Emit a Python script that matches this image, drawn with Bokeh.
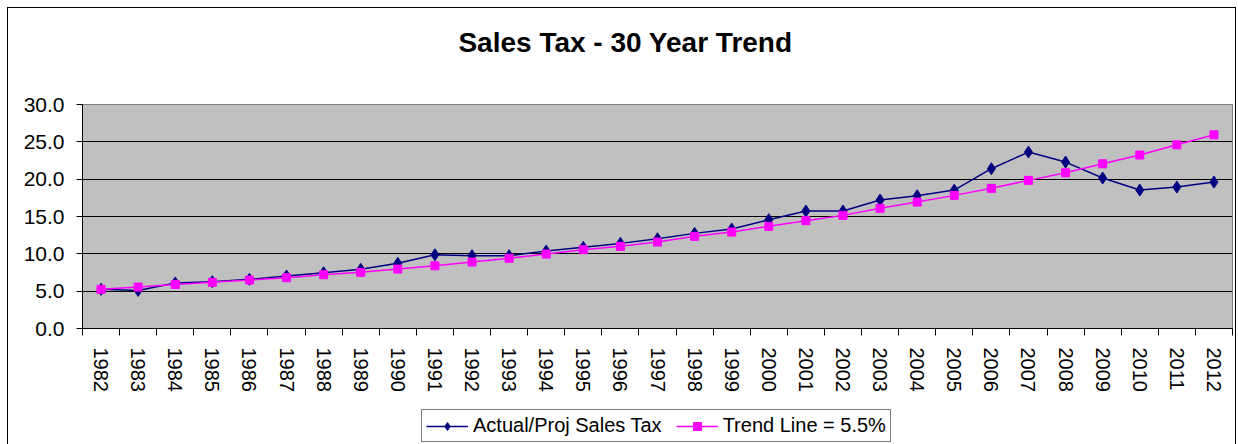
from bokeh.plotting import figure
from bokeh.layouts import column
from bokeh.models import (ColumnDataSource, FixedTicker, NumeralTickFormatter,
                          Range1d, Legend, LegendItem, Label)
from bokeh.embed import file_html
from bokeh.resources import INLINE

years = list(range(1982, 2013))
actual = [5.25, 5.1, 6.1, 6.27, 6.58, 7.03, 7.47, 7.92, 8.73, 9.88, 9.75,
          9.75, 10.37, 10.87, 11.4, 12.02, 12.74, 13.32, 14.57, 15.73, 15.73,
          17.2, 17.78, 18.54, 21.4, 23.63, 22.29, 20.15, 18.54, 18.94, 19.61]
trend = [5.25, 5.55, 5.9, 6.18, 6.49, 6.8, 7.2, 7.52, 7.96, 8.4, 8.9,
         9.4, 9.97, 10.55, 11.0, 11.58, 12.34, 12.92, 13.68, 14.44, 15.15,
         16.09, 16.93, 17.83, 18.77, 19.84, 20.86, 22.06, 23.23, 24.6, 25.94]
y_ticks = [0, 5, 10, 15, 20, 25, 30]
title_text = "Sales Tax - 30 Year Trend"
series_names = ["Actual/Proj Sales Tax", "Trend Line = 5.5%"]

FONT = "Liberation Sans"
NAVY = "#000080"
MAGENTA = "#FF00FF"

src = ColumnDataSource(dict(year=years, actual=actual, trend=trend))

# title strip
tp = figure(width=1227, height=60, output_backend="svg", toolbar_location=None,
            x_range=Range1d(0, 1150), y_range=Range1d(0, 60),
            x_axis_location=None, y_axis_location=None,
            min_border_left=0, min_border_right=0, min_border_top=0, min_border_bottom=0)
tp.outline_line_color = None
tp.background_fill_color = "white"
tp.border_fill_color = "white"
tp.xgrid.visible = False
tp.ygrid.visible = False
tp.add_layout(Label(x=543, y=26, text=title_text, text_font=FONT,
                    text_font_size="28px", text_font_style="bold",
                    text_color="black", text_align="center",
                    text_baseline="middle"))

p = figure(frame_width=1150, frame_height=224, output_backend="svg", toolbar_location=None,
           x_range=Range1d(years[0] - 0.5, years[-1] + 0.5),
           y_range=Range1d(y_ticks[0], y_ticks[-1]),
           min_border_left=74, min_border_right=3,
           min_border_top=36, min_border_bottom=80)

p.background_fill_color = "#C0C0C0"
p.border_fill_color = "white"
p.outline_line_color = "#808080"

p.xgrid.visible = False
p.ygrid.grid_line_color = "black"
p.ygrid.grid_line_width = 1
p.ygrid.ticker = FixedTicker(ticks=y_ticks)

xa = p.xaxis[0]
xa.ticker = FixedTicker(ticks=years, minor_ticks=[y - 0.5 for y in years] + [years[-1] + 0.5])
xa.major_label_overrides = {y: str(y) for y in years}
xa.major_label_orientation = "vertical"
xa.major_tick_out = 0
xa.major_tick_in = 0
xa.minor_tick_out = 7
xa.minor_tick_in = 0
xa.minor_tick_line_color = "black"
xa.axis_line_color = "black"
xa.major_label_standoff = 12
xa.major_label_text_font = FONT
xa.major_label_text_font_size = "20px"
xa.major_label_text_color = "black"

ya = p.yaxis[0]
ya.ticker = FixedTicker(ticks=y_ticks, minor_ticks=[])
ya.formatter = NumeralTickFormatter(format="0.0")
ya.major_tick_out = 6
ya.major_tick_in = 0
ya.minor_tick_out = 0
ya.axis_line_color = "black"
ya.major_tick_line_color = "black"
ya.major_label_standoff = 12
ya.major_label_text_font = FONT
ya.major_label_text_font_size = "21px"
ya.major_label_text_color = "black"

p.line("year", "actual", source=src, line_color=NAVY, line_width=1.5)
p.scatter("year", "actual", source=src, marker="diamond", size=12,
          fill_color=NAVY, line_color=NAVY)
p.line("year", "trend", source=src, line_color=MAGENTA, line_width=1.5)
p.scatter("year", "trend", source=src, marker="square", size=8,
          fill_color=MAGENTA, line_color=MAGENTA)

# legend strip under the chart (series drawn out of view, only for legend glyphs)
lp = figure(width=1227, height=36, output_backend="svg", toolbar_location=None,
            x_range=Range1d(0, 1), y_range=Range1d(0, 1),
            x_axis_location=None, y_axis_location=None,
            min_border_left=0, min_border_right=0, min_border_top=0, min_border_bottom=0)
lp.outline_line_color = None
lp.background_fill_color = "white"
lp.border_fill_color = "white"
lp.xgrid.visible = False
lp.ygrid.visible = False
r1 = lp.line("year", "actual", source=src, line_color=NAVY, line_width=1.5)
s1 = lp.scatter("year", "actual", source=src, marker="diamond", size=12,
                fill_color=NAVY, line_color=NAVY)
r2 = lp.line("year", "trend", source=src, line_color=MAGENTA, line_width=1.5)
s2 = lp.scatter("year", "trend", source=src, marker="square", size=8,
                fill_color=MAGENTA, line_color=MAGENTA)

legend = Legend(items=[LegendItem(label=series_names[0], renderers=[r1, s1]),
                       LegendItem(label=series_names[1], renderers=[r2, s2])],
                orientation="horizontal", location=(339, 2),
                glyph_width=42, glyph_height=20, label_standoff=5, spacing=14,
                padding=4, margin=0,
                label_text_font=FONT, label_text_font_size="20px",
                label_text_color="black",
                border_line_color="black", border_line_width=1,
                background_fill_color="white", background_fill_alpha=1)
lp.add_layout(legend, "center")

layout = column(tp, p, lp, spacing=0)
layout.styles = {"margin-left": "7px", "margin-top": "7px", "border": "1px solid black"}

open("out.html", "w").write(file_html(layout, INLINE))
